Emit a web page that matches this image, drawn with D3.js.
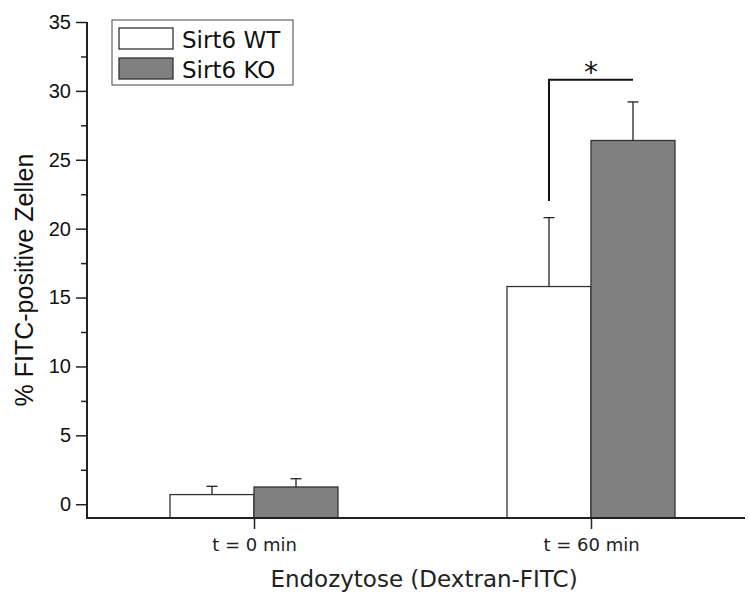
<!DOCTYPE html>
<html>
<head>
<meta charset="utf-8">
<script src="https://cdn.jsdelivr.net/npm/d3@7"></script>
<style>
  body { margin: 0; background: #fff; }
  svg { display: block; }
</style>
</head>
<body>
<script>
const categories = ['t = 0 min', 't = 60 min']
const groups = ['Sirt6 WT', 'Sirt6 KO']
const wtMeans = [0.7, 15.8]
const wtErrors = [0.6, 5.0]
const koMeans = [1.25, 26.4]
const koErrors = [0.6, 2.8]
const yTicks = [0, 5, 10, 15, 20, 25, 30, 35]
const yMinorTicks = [2.5, 7.5, 12.5, 17.5, 22.5, 27.5, 32.5]
// significance bracket: from WT to KO at t = 60 min
const sigCategory = 't = 60 min'
const sigLow = 22.0
const sigHigh = 30.8

const width = 749
const height = 594
const fills = { 'Sirt6 WT': '#ffffff', 'Sirt6 KO': '#808080' }

const rows = categories.flatMap((c, i) => [
	{ cat: c, group: groups[0], mean: wtMeans[i], err: wtErrors[i] },
	{ cat: c, group: groups[1], mean: koMeans[i], err: koErrors[i] },
])

const svg = d3.select('body')
	.append('svg')
	.attr('width', width)
	.attr('height', height)

// Scales
const yScale = d3.scaleLinear()
	.domain([-1, 35])
	.range([518, 22])

const xScale = d3.scalePoint()
	.domain(categories)
	.range([254, 591])

const subScale = d3.scaleBand()
	.domain(groups)
	.range([-84, 84])

// Bars
svg.append('g')
	.selectAll('rect')
	.data(rows)
	.enter()
	.append('rect')
	.attr('x', d => xScale(d.cat) + subScale(d.group))
	.attr('y', d => yScale(d.mean))
	.attr('width', subScale.bandwidth())
	.attr('height', d => yScale(-1) - yScale(d.mean))
	.attr('fill', d => fills[d.group])
	.attr('stroke', '#333')
	.attr('stroke-width', 1.3)

// Error bars (upper only)
const err = svg.append('g')
	.attr('stroke', '#222')
	.attr('stroke-width', 1.3)
	.selectAll('g')
	.data(rows)
	.enter()
	.append('g')
	.attr('transform', d => `translate(${xScale(d.cat) + subScale(d.group) + subScale.bandwidth() / 2},0)`)

err.append('line')
	.attr('y1', d => yScale(d.mean))
	.attr('y2', d => yScale(d.mean + d.err))

err.append('line')
	.attr('x1', -5.5)
	.attr('x2', 5.5)
	.attr('y1', d => yScale(d.mean + d.err))
	.attr('y2', d => yScale(d.mean + d.err))

// Y axis
const yAxis = d3.axisLeft(yScale)
	.tickValues(yTicks)
	.tickSize(11)
	.tickPadding(5)
	.tickFormat(d3.format('d'))

const yG = svg.append('g')
	.attr('transform', 'translate(87,0)')
	.call(yAxis)

yG.select('.domain').remove()
yG.selectAll('.tick line').attr('stroke', '#222').attr('stroke-width', 1.5)
yG.selectAll('.tick text')
	.attr('font-family', '"Liberation Sans", Arial, sans-serif')
	.attr('font-size', 20)
	.attr('fill', '#111')

const yMinor = d3.axisLeft(yScale)
	.tickValues(yMinorTicks)
	.tickSize(6)
	.tickFormat('')

const yMinorG = svg.append('g')
	.attr('transform', 'translate(87,0)')
	.call(yMinor)
yMinorG.select('.domain').remove()
yMinorG.selectAll('.tick line').attr('stroke', '#222').attr('stroke-width', 1.5)

svg.append('line')
	.attr('x1', 87).attr('x2', 87)
	.attr('y1', yScale(35)).attr('y2', yScale(-1))
	.attr('stroke', '#222')
	.attr('stroke-width', 2)

// X axis
const xAxis = d3.axisBottom(xScale)
	.tickSize(11)
	.tickPadding(9)

const xG = svg.append('g')
	.attr('transform', `translate(0,${yScale(-1)})`)
	.call(xAxis)

xG.select('.domain').remove()
xG.selectAll('.tick line').attr('stroke', '#222').attr('stroke-width', 1.5)
xG.selectAll('.tick text')
	.attr('font-family', '"DejaVu Sans", Verdana, sans-serif')
	.attr('font-size', 18)
	.attr('fill', '#222')

svg.append('line')
	.attr('x1', 86).attr('x2', 745)
	.attr('y1', yScale(-1)).attr('y2', yScale(-1))
	.attr('stroke', '#222')
	.attr('stroke-width', 2)

// Axis titles
svg.append('text')
	.attr('x', 424)
	.attr('y', 587)
	.attr('text-anchor', 'middle')
	.attr('font-family', '"DejaVu Sans", Verdana, sans-serif')
	.attr('font-size', 23)
	.attr('fill', '#222')
	.text('Endozytose (Dextran-FITC)')

svg.append('text')
	.attr('transform', 'translate(33,280) rotate(-90)')
	.attr('text-anchor', 'middle')
	.attr('font-family', '"Liberation Sans", Arial, sans-serif')
	.attr('font-size', 25)
	.attr('fill', '#111')
	.text('% FITC-positive Zellen')

// Significance bracket
const sx1 = xScale(sigCategory) + subScale(groups[0]) + subScale.bandwidth() / 2
const sx2 = xScale(sigCategory) + subScale(groups[1]) + subScale.bandwidth() / 2
svg.append('path')
	.attr('d', `M${sx1},${yScale(sigLow)}V${yScale(sigHigh)}H${sx2}`)
	.attr('fill', 'none')
	.attr('stroke', '#111')
	.attr('stroke-width', 2)

svg.append('text')
	.attr('x', (sx1 + sx2) / 2)
	.attr('y', yScale(sigHigh) + 2)
	.attr('text-anchor', 'middle')
	.attr('font-family', '"DejaVu Sans", sans-serif')
	.attr('font-size', 28)
	.attr('fill', '#111')
	.text('*')

// Legend
const legend = svg.append('g')
	.attr('transform', 'translate(112,20)')

legend.append('rect')
	.attr('width', 181)
	.attr('height', 65)
	.attr('fill', '#fff')
	.attr('stroke', '#444')
	.attr('stroke-width', 1)

const item = legend.selectAll('g')
	.data(groups)
	.enter()
	.append('g')
	.attr('transform', (d, i) => `translate(7,${8 + i * 30})`)

item.append('rect')
	.attr('width', 54)
	.attr('height', 21)
	.attr('fill', d => fills[d])
	.attr('stroke', '#333')
	.attr('stroke-width', 1.3)

item.append('text')
	.attr('x', 63)
	.attr('y', 20)
	.attr('font-family', '"DejaVu Sans", Verdana, sans-serif')
	.attr('font-size', 23)
	.attr('fill', '#111')
	.text(d => d)
</script>
</body>
</html>
